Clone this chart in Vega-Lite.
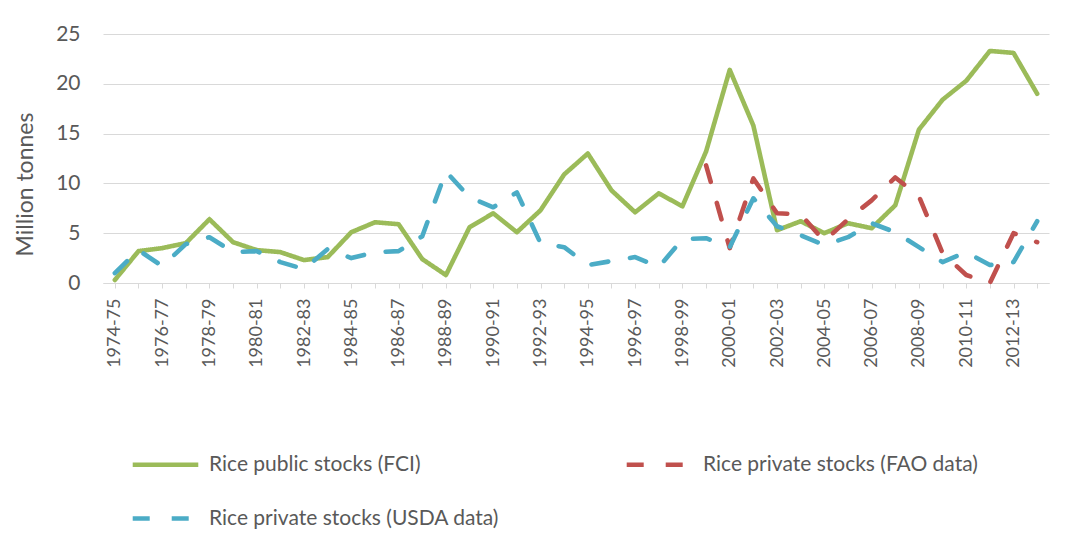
{
  "$schema": "https://vega.github.io/schema/vega-lite/v6.json",
  "autosize": "none",
  "width": 946,
  "height": 249,
  "padding": {"left": 103, "top": 34, "right": 30, "bottom": 277},
  "background": "white",
  "config": {
    "font": "Lato",
    "view": {"stroke": null},
    "axis": {"labelColor": "#595959", "titleColor": "#595959", "domainColor": "#D9D9D9", "tickColor": "#D9D9D9", "gridColor": "#D9D9D9"},
    "legend": {"labelColor": "#595959"}
  },
  "data": {"values": [
    {"year": "1974-75", "series": "Rice public stocks (FCI)", "value": 0.3},
    {"year": "1975-76", "series": "Rice public stocks (FCI)", "value": 3.2},
    {"year": "1976-77", "series": "Rice public stocks (FCI)", "value": 3.5},
    {"year": "1977-78", "series": "Rice public stocks (FCI)", "value": 4.0},
    {"year": "1978-79", "series": "Rice public stocks (FCI)", "value": 6.4},
    {"year": "1979-80", "series": "Rice public stocks (FCI)", "value": 4.1},
    {"year": "1980-81", "series": "Rice public stocks (FCI)", "value": 3.3},
    {"year": "1981-82", "series": "Rice public stocks (FCI)", "value": 3.1},
    {"year": "1982-83", "series": "Rice public stocks (FCI)", "value": 2.3},
    {"year": "1983-84", "series": "Rice public stocks (FCI)", "value": 2.6},
    {"year": "1984-85", "series": "Rice public stocks (FCI)", "value": 5.1},
    {"year": "1985-86", "series": "Rice public stocks (FCI)", "value": 6.1},
    {"year": "1986-87", "series": "Rice public stocks (FCI)", "value": 5.9},
    {"year": "1987-88", "series": "Rice public stocks (FCI)", "value": 2.4},
    {"year": "1988-89", "series": "Rice public stocks (FCI)", "value": 0.8},
    {"year": "1989-90", "series": "Rice public stocks (FCI)", "value": 5.6},
    {"year": "1990-91", "series": "Rice public stocks (FCI)", "value": 7.0},
    {"year": "1991-92", "series": "Rice public stocks (FCI)", "value": 5.1},
    {"year": "1992-93", "series": "Rice public stocks (FCI)", "value": 7.3},
    {"year": "1993-94", "series": "Rice public stocks (FCI)", "value": 10.9},
    {"year": "1994-95", "series": "Rice public stocks (FCI)", "value": 13.0},
    {"year": "1995-96", "series": "Rice public stocks (FCI)", "value": 9.3},
    {"year": "1996-97", "series": "Rice public stocks (FCI)", "value": 7.1},
    {"year": "1997-98", "series": "Rice public stocks (FCI)", "value": 9.0},
    {"year": "1998-99", "series": "Rice public stocks (FCI)", "value": 7.7},
    {"year": "1999-00", "series": "Rice public stocks (FCI)", "value": 13.2},
    {"year": "2000-01", "series": "Rice public stocks (FCI)", "value": 21.4},
    {"year": "2001-02", "series": "Rice public stocks (FCI)", "value": 15.8},
    {"year": "2002-03", "series": "Rice public stocks (FCI)", "value": 5.3},
    {"year": "2003-04", "series": "Rice public stocks (FCI)", "value": 6.2},
    {"year": "2004-05", "series": "Rice public stocks (FCI)", "value": 5.0},
    {"year": "2005-06", "series": "Rice public stocks (FCI)", "value": 6.0},
    {"year": "2006-07", "series": "Rice public stocks (FCI)", "value": 5.5},
    {"year": "2007-08", "series": "Rice public stocks (FCI)", "value": 7.8},
    {"year": "2008-09", "series": "Rice public stocks (FCI)", "value": 15.4},
    {"year": "2009-10", "series": "Rice public stocks (FCI)", "value": 18.4},
    {"year": "2010-11", "series": "Rice public stocks (FCI)", "value": 20.3},
    {"year": "2011-12", "series": "Rice public stocks (FCI)", "value": 23.3},
    {"year": "2012-13", "series": "Rice public stocks (FCI)", "value": 23.1},
    {"year": "2013-14", "series": "Rice public stocks (FCI)", "value": 19.0},
    {"year": "1999-00", "series": "Rice private stocks (FAO data)", "value": 11.8},
    {"year": "2000-01", "series": "Rice private stocks (FAO data)", "value": 3.5},
    {"year": "2001-02", "series": "Rice private stocks (FAO data)", "value": 10.5},
    {"year": "2002-03", "series": "Rice private stocks (FAO data)", "value": 7.0},
    {"year": "2003-04", "series": "Rice private stocks (FAO data)", "value": 6.9},
    {"year": "2004-05", "series": "Rice private stocks (FAO data)", "value": 4.2},
    {"year": "2005-06", "series": "Rice private stocks (FAO data)", "value": 6.4},
    {"year": "2006-07", "series": "Rice private stocks (FAO data)", "value": 8.3},
    {"year": "2007-08", "series": "Rice private stocks (FAO data)", "value": 10.6},
    {"year": "2008-09", "series": "Rice private stocks (FAO data)", "value": 8.7},
    {"year": "2009-10", "series": "Rice private stocks (FAO data)", "value": 3.0},
    {"year": "2010-11", "series": "Rice private stocks (FAO data)", "value": 0.8},
    {"year": "2011-12", "series": "Rice private stocks (FAO data)", "value": 0.0},
    {"year": "2012-13", "series": "Rice private stocks (FAO data)", "value": 5.0},
    {"year": "2013-14", "series": "Rice private stocks (FAO data)", "value": 4.1},
    {"year": "1974-75", "series": "Rice private stocks (USDA data)", "value": 1.0},
    {"year": "1975-76", "series": "Rice private stocks (USDA data)", "value": 3.3},
    {"year": "1976-77", "series": "Rice private stocks (USDA data)", "value": 1.7},
    {"year": "1977-78", "series": "Rice private stocks (USDA data)", "value": 3.9},
    {"year": "1978-79", "series": "Rice private stocks (USDA data)", "value": 4.6},
    {"year": "1979-80", "series": "Rice private stocks (USDA data)", "value": 3.1},
    {"year": "1980-81", "series": "Rice private stocks (USDA data)", "value": 3.2},
    {"year": "1981-82", "series": "Rice private stocks (USDA data)", "value": 2.1},
    {"year": "1982-83", "series": "Rice private stocks (USDA data)", "value": 1.4},
    {"year": "1983-84", "series": "Rice private stocks (USDA data)", "value": 3.4},
    {"year": "1984-85", "series": "Rice private stocks (USDA data)", "value": 2.5},
    {"year": "1985-86", "series": "Rice private stocks (USDA data)", "value": 3.1},
    {"year": "1986-87", "series": "Rice private stocks (USDA data)", "value": 3.2},
    {"year": "1987-88", "series": "Rice private stocks (USDA data)", "value": 4.7},
    {"year": "1988-89", "series": "Rice private stocks (USDA data)", "value": 11.2},
    {"year": "1989-90", "series": "Rice private stocks (USDA data)", "value": 8.6},
    {"year": "1990-91", "series": "Rice private stocks (USDA data)", "value": 7.6},
    {"year": "1991-92", "series": "Rice private stocks (USDA data)", "value": 9.1},
    {"year": "1992-93", "series": "Rice private stocks (USDA data)", "value": 4.0},
    {"year": "1993-94", "series": "Rice private stocks (USDA data)", "value": 3.6},
    {"year": "1994-95", "series": "Rice private stocks (USDA data)", "value": 1.8},
    {"year": "1995-96", "series": "Rice private stocks (USDA data)", "value": 2.2},
    {"year": "1996-97", "series": "Rice private stocks (USDA data)", "value": 2.6},
    {"year": "1997-98", "series": "Rice private stocks (USDA data)", "value": 1.6},
    {"year": "1998-99", "series": "Rice private stocks (USDA data)", "value": 4.4},
    {"year": "1999-00", "series": "Rice private stocks (USDA data)", "value": 4.5},
    {"year": "2000-01", "series": "Rice private stocks (USDA data)", "value": 3.6},
    {"year": "2001-02", "series": "Rice private stocks (USDA data)", "value": 8.5},
    {"year": "2002-03", "series": "Rice private stocks (USDA data)", "value": 5.7},
    {"year": "2003-04", "series": "Rice private stocks (USDA data)", "value": 4.8},
    {"year": "2004-05", "series": "Rice private stocks (USDA data)", "value": 3.8},
    {"year": "2005-06", "series": "Rice private stocks (USDA data)", "value": 4.6},
    {"year": "2006-07", "series": "Rice private stocks (USDA data)", "value": 6.0},
    {"year": "2007-08", "series": "Rice private stocks (USDA data)", "value": 5.1},
    {"year": "2008-09", "series": "Rice private stocks (USDA data)", "value": 3.6},
    {"year": "2009-10", "series": "Rice private stocks (USDA data)", "value": 2.1},
    {"year": "2010-11", "series": "Rice private stocks (USDA data)", "value": 3.1},
    {"year": "2011-12", "series": "Rice private stocks (USDA data)", "value": 1.8},
    {"year": "2012-13", "series": "Rice private stocks (USDA data)", "value": 2.1},
    {"year": "2013-14", "series": "Rice private stocks (USDA data)", "value": 6.2}
  ]},
  "mark": {"type": "line", "strokeWidth": 4.6, "strokeCap": "round", "strokeJoin": "round"},
  "encoding": {
    "x": {
      "field": "year", "type": "ordinal", "sort": null,
      "scale": {"type": "point", "padding": 0.5},
      "axis": {
        "title": null, "labelAngle": 270, "labelFontSize": 18, "labelPadding": 10,
        "tickSize": 5, "domainWidth": 1, "labelOverlap": false,
        "labelExpr": "toNumber(substring(datum.value, 0, 4)) % 2 == 0 ? datum.value : ''"
      }
    },
    "y": {
      "field": "value", "type": "quantitative",
      "scale": {"domain": [0, 25], "nice": false},
      "axis": {
        "title": "Million tonnes", "values": [0, 5, 10, 15, 20, 25],
        "labelFontSize": 21, "labelPadding": 23, "ticks": false, "domain": false,
        "titleFontSize": 23, "titleFontWeight": "normal",
        "titleAngle": 270, "titleBaseline": "middle", "titleAlign": "center", "titleX": -78, "titleY": 150
      }
    },
    "color": {
      "field": "series", "type": "nominal",
      "scale": {
        "domain": ["Rice public stocks (FCI)", "Rice private stocks (FAO data)", "Rice private stocks (USDA data)"],
        "range": ["#9BBB59", "#C0504D", "#4BACC6"]
      },
      "legend": {
        "title": null, "orient": "none", "legendX": 27, "legendY": 395, "direction": "horizontal", "columns": 2,
        "columnPadding": 117, "rowPadding": 8, "labelFontSize": 21, "labelLimit": 500,
        "symbolType": "stroke", "symbolSize": 4300, "symbolStrokeWidth": 4.5, "labelOffset": 8
      }
    },
    "strokeDash": {
      "field": "series", "type": "nominal",
      "scale": {
        "domain": ["Rice public stocks (FCI)", "Rice private stocks (FAO data)", "Rice private stocks (USDA data)"],
        "range": [[1, 0], [17, 22], [17, 22]]
      },
      "legend": {
        "title": null, "orient": "none", "legendX": 27, "legendY": 395, "direction": "horizontal", "columns": 2,
        "columnPadding": 117, "rowPadding": 8, "labelFontSize": 21, "labelLimit": 500,
        "symbolType": "stroke", "symbolSize": 4300, "symbolStrokeWidth": 4.5, "labelOffset": 8
      }
    }
  }
}
